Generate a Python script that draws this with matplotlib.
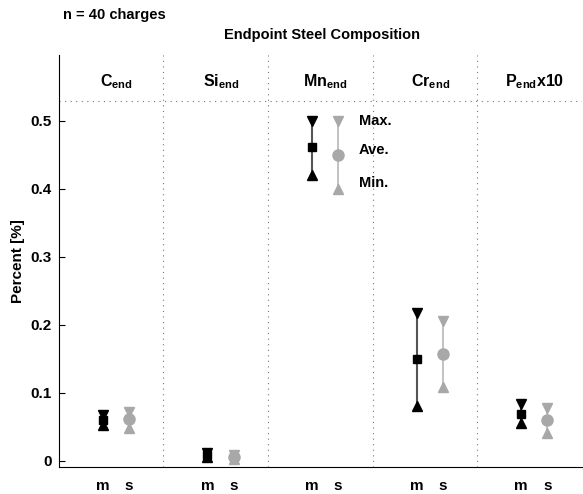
import numpy as np
import matplotlib
matplotlib.use('Agg')
import matplotlib.pyplot as plt

plt.rcParams['font.family'] = 'Liberation Sans'
plt.rcParams['font.weight'] = 'bold'
plt.rcParams['axes.labelweight'] = 'bold'
plt.rcParams['mathtext.fontset'] = 'custom'
plt.rcParams['mathtext.rm'] = 'Liberation Sans:bold'
plt.rcParams['mathtext.bf'] = 'Liberation Sans:bold'
plt.rcParams['mathtext.it'] = 'Liberation Sans:bold'

# endpoint composition, measured (m) vs simulated (s)
headers = [r'C$_{\mathrm{end}}$', r'Si$_{\mathrm{end}}$', r'Mn$_{\mathrm{end}}$',
           r'Cr$_{\mathrm{end}}$', r'P$_{\mathrm{end}}$x10']
m_max = [0.067, 0.011, 0.500, 0.218, 0.084]
m_ave = [0.060, 0.008, 0.461, 0.150, 0.069]
m_min = [0.052, 0.005, 0.420, 0.081, 0.055]
s_max = [0.072, 0.009, 0.500, 0.205, 0.077]
s_ave = [0.061, 0.006, 0.449, 0.157, 0.060]
s_min = [0.049, 0.003, 0.400, 0.109, 0.041]

pos = np.arange(1, len(headers) + 1)
xm = pos - 0.08
xs = pos + 0.17

dark = '#000000'
dline = '#555555'
grey = '#a8a8a8'
gline = '#bdbdbd'

fig = plt.figure(figsize=(5.83, 4.94), dpi=100)
ax = fig.add_axes([0.101, 0.055, 0.897, 0.834])

ax.vlines(xm, m_min, m_max, color=dline, lw=1.5, zorder=2)
ax.vlines(xs, s_min, s_max, color=gline, lw=1.3, zorder=2)
ms = 7.5
ax.plot(xm, m_max, 'v', color=dark, ms=ms, zorder=3)
ax.plot(xm, m_min, '^', color=dark, ms=ms, zorder=3)
ax.plot(xm, m_ave, 's', color=dark, ms=6, zorder=4)
ax.plot(xs, s_max, 'v', color=grey, ms=ms, zorder=3)
ax.plot(xs, s_min, '^', color=grey, ms=ms, zorder=3)
ax.plot(xs, s_ave, 'o', color=grey, ms=8, zorder=4)

# separators
for b in pos[:-1] + 0.5:
    ax.axvline(b, color='#777777', lw=0.8, ls=(0, (1, 4)), zorder=1)
ax.axhline(0.529, color='#777777', lw=0.8, ls=(0, (1, 4)), zorder=1)

for i in range(len(headers)):
    ax.text(pos[i] + 0.05, 0.558, headers[i], ha='center', va='center', fontsize=11.5)

ax.text(3.37, 0.499, 'Max.', ha='left', va='center', fontsize=10.5)
ax.text(3.37, 0.457, 'Ave.', ha='left', va='center', fontsize=10.5)
ax.text(3.37, 0.409, 'Min.', ha='left', va='center', fontsize=10.5)

ax.set_xlim(0.5, 5.5)
ax.set_ylim(-0.0088, 0.597)
ax.set_yticks([0, 0.1, 0.2, 0.3, 0.4, 0.5])
ax.set_yticklabels(['0', '0.1', '0.2', '0.3', '0.4', '0.5'])
ax.tick_params(axis='y', direction='in', length=4, labelsize=11, pad=5)
xt = np.concatenate([xm, xs])
ax.set_xticks(xt)
ax.set_xticklabels(['m'] * len(xm) + ['s'] * len(xs))
ax.tick_params(axis='x', length=0, labelsize=11, pad=9)
ax.spines['top'].set_visible(False)
ax.spines['right'].set_visible(False)
ax.set_ylabel('Percent [%]', fontsize=11, labelpad=4)

fig.text(0.108, 0.970, 'n = 40 charges', ha='left', va='center', fontsize=10.5)
fig.text(0.552, 0.929, 'Endpoint Steel Composition', ha='center', va='center', fontsize=10.5)

fig.savefig('out.png', dpi=100)
